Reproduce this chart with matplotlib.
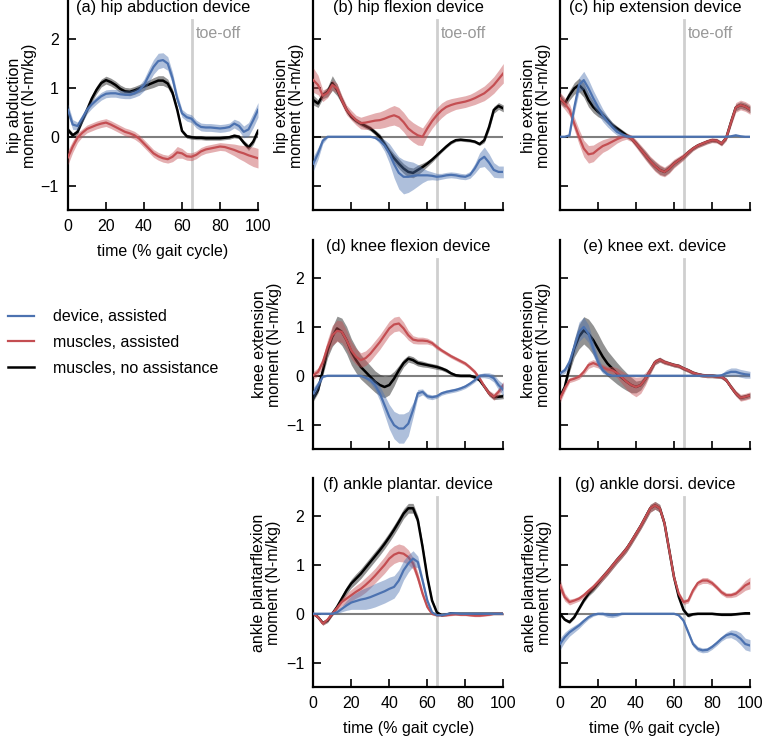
import numpy as np
import matplotlib
matplotlib.use("Agg")
import matplotlib.pyplot as plt
from matplotlib.lines import Line2D

plt.rcParams['font.family'] = ['Liberation Sans', 'DejaVu Sans']
FS = 11.5

# gait cycle (%) sample points
gait = [0, 2.5, 5, 7.5, 10, 12.5, 15, 17.5, 20, 22.5, 25, 27.5, 30, 32.5, 35, 37.5, 40,
        42.5, 45, 47.5, 50, 52.5, 55, 57.5, 60, 62.5, 65, 67.5, 70, 72.5, 75, 77.5, 80,
        82.5, 85, 87.5, 90, 92.5, 95, 97.5, 100]

titles = ["(a) hip abduction device", "(b) hip flexion device", "(c) hip extension device",
          "(d) knee flexion device", "(e) knee ext. device",
          "(f) ankle plantar. device", "(g) ankle dorsi. device"]
ylabels = ["hip abduction\nmoment (N-m/kg)", "hip extension\nmoment (N-m/kg)",
           "hip extension\nmoment (N-m/kg)", "knee extension\nmoment (N-m/kg)",
           "knee extension\nmoment (N-m/kg)", "ankle plantarflexion\nmoment (N-m/kg)",
           "ankle plantarflexion\nmoment (N-m/kg)"]
legend_labels = ["device, assisted", "muscles, assisted", "muscles, no assistance"]
toe_off = 65
xticks = [0, 20, 40, 60, 80, 100]
yticks = [-1, 0, 1, 2]

# ---- (a) hip abduction device ----
device_a = [0.55, 0.25, 0.22, 0.38, 0.55, 0.66, 0.75, 0.83, 0.88, 0.89, 0.89, 0.87, 0.86, 0.86, 0.89, 0.95, 1.06,
            1.25, 1.43, 1.55, 1.57, 1.5, 1.2, 0.78, 0.48, 0.4, 0.37, 0.26, 0.2, 0.19, 0.19, 0.18, 0.17,
            0.18, 0.2, 0.27, 0.22, 0.1, 0.15, 0.34, 0.55]
device_a_sd = [0.12, 0.1, 0.08, 0.08, 0.08, 0.08, 0.08, 0.08, 0.08, 0.08, 0.08, 0.08, 0.08, 0.08, 0.08, 0.1, 0.12,
               0.14, 0.15, 0.16, 0.15, 0.14, 0.12, 0.1, 0.08, 0.08, 0.08, 0.08, 0.08, 0.08, 0.08, 0.08, 0.08,
               0.08, 0.08, 0.09, 0.1, 0.12, 0.14, 0.15, 0.15]
assisted_a = [-0.42, -0.2, -0.02, 0.08, 0.16, 0.2, 0.24, 0.27, 0.29, 0.25, 0.2, 0.15, 0.1, 0.07, 0.03, -0.04, -0.14,
              -0.24, -0.34, -0.4, -0.44, -0.46, -0.41, -0.32, -0.34, -0.4, -0.41, -0.37, -0.3, -0.26, -0.24, -0.22, -0.2,
              -0.21, -0.24, -0.27, -0.31, -0.34, -0.38, -0.41, -0.44]
assisted_a_sd = [0.15, 0.12, 0.1, 0.08, 0.08, 0.08, 0.08, 0.08, 0.08, 0.08, 0.08, 0.08, 0.08, 0.08, 0.08, 0.08, 0.08,
                 0.08, 0.08, 0.08, 0.08, 0.08, 0.1, 0.12, 0.1, 0.08, 0.08, 0.08, 0.08, 0.08, 0.08, 0.08, 0.08,
                 0.08, 0.1, 0.12, 0.14, 0.16, 0.18, 0.2, 0.2]
none_a = [0.14, 0.03, 0.1, 0.33, 0.55, 0.78, 0.96, 1.1, 1.16, 1.12, 1.06, 0.98, 0.93, 0.92, 0.95, 0.99, 1.03,
          1.07, 1.11, 1.15, 1.15, 1.09, 0.9, 0.55, 0.12, 0.01, -0.01, -0.02, -0.02, -0.03, -0.03, -0.03, -0.03,
          -0.02, -0.01, 0.02, 0.0, -0.12, -0.22, -0.1, 0.12]
none_a_sd = [0.05, 0.05, 0.05, 0.05, 0.06, 0.07, 0.08, 0.08, 0.08, 0.08, 0.08, 0.08, 0.08, 0.08, 0.08, 0.08, 0.08,
             0.09, 0.1, 0.1, 0.1, 0.09, 0.08, 0.06, 0.04, 0.04, 0.04, 0.04, 0.04, 0.04, 0.04, 0.04, 0.04,
             0.04, 0.04, 0.04, 0.04, 0.05, 0.06, 0.06, 0.06]

# ---- (b) hip flexion device ----
device_b = [-0.55, -0.34, -0.08, 0.0, 0, 0, 0, 0, 0, 0, 0, 0, 0, -0.02, -0.08, -0.18, -0.34,
            -0.56, -0.74, -0.82, -0.82, -0.8, -0.79, -0.79, -0.79, -0.8, -0.82, -0.81, -0.79, -0.78, -0.79, -0.81, -0.82,
            -0.78, -0.65, -0.48, -0.41, -0.53, -0.68, -0.72, -0.72]
device_b_sd = [0.15, 0.12, 0.06, 0.02, 0, 0, 0, 0, 0, 0, 0, 0, 0, 0.02, 0.06, 0.12, 0.2,
               0.28, 0.33, 0.35, 0.32, 0.28, 0.22, 0.15, 0.1, 0.08, 0.07, 0.06, 0.06, 0.06, 0.06, 0.06, 0.06,
               0.07, 0.1, 0.15, 0.2, 0.18, 0.15, 0.12, 0.12]
assisted_b = [1.16, 1.06, 0.84, 0.9, 1.06, 0.99, 0.75, 0.55, 0.44, 0.34, 0.28, 0.29, 0.31, 0.33, 0.34, 0.37, 0.41,
              0.44, 0.4, 0.3, 0.17, 0.09, 0.03, 0.0, 0.17, 0.32, 0.44, 0.54, 0.61, 0.65, 0.68, 0.7, 0.72,
              0.75, 0.79, 0.84, 0.89, 0.97, 1.06, 1.18, 1.3]
assisted_b_sd = [0.25, 0.2, 0.12, 0.1, 0.1, 0.1, 0.1, 0.1, 0.1, 0.1, 0.12, 0.14, 0.15, 0.16, 0.17, 0.18, 0.19,
                 0.2, 0.2, 0.2, 0.2, 0.2, 0.2, 0.18, 0.15, 0.15, 0.15, 0.15, 0.14, 0.13, 0.12, 0.12, 0.12,
                 0.12, 0.13, 0.14, 0.15, 0.16, 0.17, 0.18, 0.2]
none_b = [0.75, 0.68, 0.85, 0.92, 1.1, 0.96, 0.75, 0.55, 0.41, 0.33, 0.27, 0.22, 0.17, 0.09, 0.0, -0.15, -0.31,
          -0.44, -0.55, -0.65, -0.72, -0.74, -0.68, -0.62, -0.55, -0.47, -0.38, -0.29, -0.2, -0.12, -0.07, -0.06, -0.07,
          -0.08, -0.1, -0.15, -0.07, 0.2, 0.55, 0.63, 0.58]
none_b_sd = [0.1, 0.08, 0.07, 0.1, 0.15, 0.12, 0.08, 0.06, 0.05, 0.05, 0.05, 0.05, 0.05, 0.05, 0.06, 0.07, 0.08,
             0.09, 0.1, 0.1, 0.1, 0.1, 0.1, 0.08, 0.06, 0.05, 0.04, 0.03, 0.03, 0.03, 0.03, 0.03, 0.03,
             0.03, 0.03, 0.03, 0.05, 0.07, 0.07, 0.07, 0.07]

# ---- (c) hip extension device ----
device_c = [0, 0, 0.03, 0.6, 1.06, 1.16, 0.99, 0.79, 0.61, 0.44, 0.31, 0.2, 0.1, 0.05, 0.01, 0, 0,
            0, 0, 0, 0, 0, 0, 0, 0, 0, 0, 0, 0, 0, 0, 0, 0,
            0, 0, 0, 0.01, 0.03, 0.01, 0, 0]
device_c_sd = [0, 0, 0.02, 0.12, 0.15, 0.18, 0.18, 0.16, 0.15, 0.13, 0.11, 0.09, 0.07, 0.05, 0.03, 0.01, 0,
               0, 0, 0, 0, 0, 0, 0, 0, 0, 0, 0, 0, 0, 0, 0, 0,
               0, 0, 0, 0.01, 0.02, 0.01, 0, 0]
assisted_c = [0.79, 0.68, 0.55, 0.27, 0.0, -0.24, -0.36, -0.34, -0.26, -0.19, -0.15, -0.1, -0.05, -0.01, 0.01, -0.03, -0.14,
              -0.26, -0.38, -0.5, -0.6, -0.68, -0.72, -0.65, -0.55, -0.48, -0.41, -0.32, -0.24, -0.18, -0.14, -0.1, -0.07,
              -0.08, -0.14, -0.02, 0.3, 0.6, 0.65, 0.62, 0.56]
assisted_c_sd = [0.12, 0.12, 0.12, 0.13, 0.15, 0.17, 0.18, 0.17, 0.15, 0.13, 0.12, 0.1, 0.08, 0.07, 0.06, 0.07, 0.08,
                 0.09, 0.1, 0.1, 0.11, 0.11, 0.1, 0.1, 0.09, 0.08, 0.07, 0.06, 0.05, 0.05, 0.05, 0.05, 0.05,
                 0.05, 0.05, 0.06, 0.08, 0.1, 0.1, 0.1, 0.1]
none_c = [0.79, 0.68, 0.85, 0.99, 1.06, 0.96, 0.75, 0.61, 0.51, 0.44, 0.34, 0.24, 0.17, 0.1, 0.03, -0.03, -0.14,
          -0.26, -0.38, -0.5, -0.6, -0.68, -0.72, -0.65, -0.55, -0.48, -0.41, -0.32, -0.24, -0.18, -0.14, -0.1, -0.07,
          -0.08, -0.14, -0.02, 0.3, 0.6, 0.65, 0.62, 0.56]
none_c_sd = [0.1, 0.08, 0.1, 0.12, 0.14, 0.15, 0.14, 0.12, 0.1, 0.08, 0.07, 0.06, 0.05, 0.05, 0.05, 0.05, 0.06,
             0.07, 0.08, 0.08, 0.09, 0.09, 0.08, 0.08, 0.07, 0.06, 0.05, 0.05, 0.04, 0.04, 0.04, 0.04, 0.04,
             0.04, 0.04, 0.05, 0.06, 0.07, 0.07, 0.07, 0.07]

# ---- (d) knee flexion device ----
device_d = [-0.36, -0.19, -0.02, 0, 0, 0, 0, 0, 0, 0, 0, -0.04, -0.09, -0.19, -0.36, -0.6, -0.84,
            -1.01, -1.08, -1.08, -0.98, -0.7, -0.36, -0.33, -0.42, -0.44, -0.42, -0.36, -0.33, -0.31, -0.29, -0.26, -0.22,
            -0.16, -0.09, 0.0, 0.01, 0.0, -0.05, -0.19, -0.29]
device_d_sd = [0.12, 0.08, 0.02, 0, 0, 0, 0, 0, 0, 0, 0.01, 0.03, 0.06, 0.1, 0.15, 0.2, 0.25,
               0.28, 0.3, 0.3, 0.25, 0.15, 0.08, 0.06, 0.05, 0.05, 0.04, 0.04, 0.04, 0.04, 0.04, 0.04, 0.04,
               0.04, 0.04, 0.04, 0.05, 0.06, 0.08, 0.1, 0.12]
assisted_d = [0.01, 0.08, 0.28, 0.59, 0.83, 0.92, 0.9, 0.73, 0.52, 0.39, 0.32, 0.36, 0.45, 0.57, 0.69, 0.83, 0.97,
              1.05, 1.07, 0.97, 0.83, 0.74, 0.72, 0.72, 0.71, 0.67, 0.59, 0.52, 0.46, 0.4, 0.35, 0.3, 0.25,
              0.17, 0.08, -0.05, -0.22, -0.36, -0.43, -0.33, -0.19]
assisted_d_sd = [0.08, 0.08, 0.1, 0.15, 0.2, 0.22, 0.22, 0.2, 0.18, 0.16, 0.15, 0.15, 0.15, 0.15, 0.15, 0.15, 0.15,
                 0.15, 0.15, 0.13, 0.1, 0.08, 0.07, 0.07, 0.06, 0.05, 0.05, 0.04, 0.04, 0.04, 0.04, 0.04, 0.04,
                 0.04, 0.04, 0.04, 0.05, 0.06, 0.07, 0.07, 0.07]
none_d = [-0.46, -0.29, 0.11, 0.52, 0.8, 0.97, 0.9, 0.73, 0.49, 0.32, 0.18, 0.08, -0.02, -0.12, -0.19, -0.23, -0.19,
          -0.06, 0.11, 0.26, 0.35, 0.32, 0.26, 0.24, 0.22, 0.2, 0.18, 0.15, 0.11, 0.05, 0.01, 0.0, 0.0,
          0.0, -0.03, -0.09, -0.22, -0.36, -0.44, -0.43, -0.42]
none_d_sd = [0.06, 0.06, 0.1, 0.15, 0.2, 0.25, 0.28, 0.28, 0.27, 0.26, 0.25, 0.24, 0.23, 0.22, 0.22, 0.22, 0.2,
             0.15, 0.1, 0.08, 0.07, 0.07, 0.06, 0.06, 0.05, 0.05, 0.05, 0.04, 0.04, 0.03, 0.03, 0.03, 0.03,
             0.03, 0.03, 0.03, 0.04, 0.05, 0.05, 0.05, 0.05]

# ---- (e) knee ext. device ----
device_e = [0.05, 0.11, 0.28, 0.59, 0.9, 1.0, 0.86, 0.56, 0.28, 0.11, 0.03, 0.0, 0, 0, 0, 0, 0,
            0, 0, 0, 0, 0, 0, 0, 0, 0, 0, 0, 0, 0, 0, 0, 0,
            0, 0.01, 0.05, 0.08, 0.08, 0.05, 0.03, 0.02]
device_e_sd = [0.05, 0.06, 0.1, 0.15, 0.2, 0.2, 0.18, 0.15, 0.1, 0.06, 0.03, 0.01, 0, 0, 0, 0, 0,
               0, 0, 0, 0, 0, 0, 0, 0, 0, 0, 0, 0, 0, 0, 0, 0,
               0.01, 0.03, 0.07, 0.08, 0.08, 0.08, 0.08, 0.07]
assisted_e = [-0.47, -0.26, -0.09, -0.06, -0.02, 0.08, 0.22, 0.26, 0.22, 0.17, 0.13, 0.11, 0.06, -0.03, -0.12, -0.19, -0.23,
              -0.19, -0.06, 0.11, 0.28, 0.33, 0.28, 0.25, 0.22, 0.2, 0.15, 0.11, 0.06, 0.03, 0.01, 0.0, 0.0,
              -0.01, -0.02, -0.09, -0.23, -0.36, -0.45, -0.43, -0.4]
assisted_e_sd = [0.08, 0.07, 0.05, 0.05, 0.05, 0.06, 0.07, 0.07, 0.06, 0.06, 0.06, 0.08, 0.1, 0.13, 0.16, 0.18, 0.2,
                 0.17, 0.13, 0.08, 0.06, 0.05, 0.05, 0.04, 0.04, 0.04, 0.04, 0.04, 0.04, 0.04, 0.04, 0.04, 0.04,
                 0.04, 0.04, 0.04, 0.05, 0.06, 0.07, 0.07, 0.07]
none_e = [-0.43, -0.23, 0.18, 0.56, 0.8, 0.93, 0.86, 0.73, 0.56, 0.39, 0.25, 0.15, 0.05, -0.04, -0.12, -0.19, -0.23,
          -0.19, -0.06, 0.11, 0.28, 0.33, 0.28, 0.25, 0.22, 0.2, 0.15, 0.11, 0.06, 0.03, 0.01, 0.0, 0.0,
          -0.01, -0.02, -0.09, -0.23, -0.36, -0.45, -0.43, -0.4]
none_e_sd = [0.05, 0.05, 0.1, 0.18, 0.25, 0.28, 0.3, 0.3, 0.3, 0.28, 0.26, 0.24, 0.22, 0.2, 0.18, 0.16, 0.12,
             0.1, 0.08, 0.06, 0.05, 0.05, 0.04, 0.04, 0.04, 0.04, 0.04, 0.04, 0.04, 0.04, 0.04, 0.04, 0.04,
             0.04, 0.04, 0.04, 0.05, 0.05, 0.05, 0.05, 0.05]

# ---- (f) ankle plantar. device ----
device_f = [0, 0, 0, 0, 0, 0.03, 0.1, 0.17, 0.23, 0.26, 0.29, 0.31, 0.34, 0.38, 0.42, 0.46, 0.51,
            0.55, 0.68, 0.89, 1.03, 1.13, 1.06, 0.68, 0.27, 0.03, -0.03, -0.03, -0.01, 0.01, 0.01, 0, 0,
            0, 0, 0, 0, 0, 0, 0, 0]
device_f_sd = [0, 0, 0, 0, 0.01, 0.03, 0.06, 0.1, 0.14, 0.17, 0.2, 0.22, 0.23, 0.24, 0.24, 0.24, 0.24,
               0.23, 0.22, 0.2, 0.18, 0.16, 0.12, 0.08, 0.05, 0.02, 0.01, 0.01, 0.01, 0.01, 0.01, 0.01, 0.01,
               0.01, 0.01, 0.01, 0.01, 0.01, 0.01, 0.01, 0.01]
assisted_f = [0.0, -0.07, -0.2, -0.12, 0.0, 0.12, 0.24, 0.31, 0.38, 0.45, 0.51, 0.59, 0.68, 0.78, 0.89, 1.0, 1.13,
              1.21, 1.25, 1.23, 1.16, 1.03, 0.75, 0.41, 0.14, 0.0, -0.03, -0.03, -0.03, -0.02, -0.01, -0.02, -0.02,
              -0.03, -0.04, -0.04, -0.03, -0.02, 0.0, 0.0, 0.0]
assisted_f_sd = [0.02, 0.03, 0.04, 0.04, 0.04, 0.06, 0.08, 0.1, 0.12, 0.13, 0.14, 0.15, 0.15, 0.15, 0.16, 0.17, 0.18,
                 0.18, 0.18, 0.17, 0.15, 0.12, 0.1, 0.07, 0.05, 0.03, 0.02, 0.02, 0.02, 0.02, 0.02, 0.02, 0.02,
                 0.02, 0.02, 0.02, 0.02, 0.02, 0.02, 0.02, 0.02]
none_f = [0.0, -0.07, -0.19, -0.14, 0.0, 0.14, 0.31, 0.48, 0.62, 0.72, 0.82, 0.94, 1.06, 1.18, 1.3, 1.43, 1.57,
          1.72, 1.88, 2.05, 2.16, 2.16, 1.92, 1.37, 0.75, 0.27, 0.03, -0.03, -0.02, 0.01, 0.0, 0.0, 0.0,
          0.0, 0.0, 0.0, 0.0, 0.0, 0.0, 0.0, 0.0]
none_f_sd = [0.02, 0.03, 0.04, 0.04, 0.04, 0.05, 0.07, 0.08, 0.09, 0.1, 0.1, 0.1, 0.1, 0.1, 0.1, 0.1, 0.1,
             0.1, 0.1, 0.1, 0.1, 0.1, 0.09, 0.08, 0.06, 0.04, 0.03, 0.02, 0.02, 0.02, 0.02, 0.02, 0.02,
             0.02, 0.02, 0.02, 0.02, 0.02, 0.02, 0.02, 0.02]

# ---- (g) ankle dorsi. device ----
device_g = [-0.62, -0.48, -0.38, -0.31, -0.24, -0.15, -0.07, -0.02, 0, 0, -0.02, -0.03, -0.02, 0, 0, 0, 0,
            0, 0, 0, 0, 0, 0, 0, 0, -0.03, -0.14, -0.38, -0.62, -0.72, -0.75, -0.74, -0.68,
            -0.6, -0.51, -0.44, -0.41, -0.44, -0.51, -0.62, -0.65]
device_g_sd = [0.12, 0.1, 0.08, 0.07, 0.06, 0.05, 0.04, 0.03, 0.02, 0.03, 0.05, 0.05, 0.04, 0.02, 0.01, 0.01, 0.01,
               0.01, 0.01, 0.01, 0.01, 0.01, 0.01, 0.01, 0.01, 0.02, 0.04, 0.05, 0.05, 0.05, 0.05, 0.05, 0.05,
               0.05, 0.05, 0.06, 0.08, 0.1, 0.12, 0.12, 0.12]
assisted_g = [0.58, 0.34, 0.24, 0.27, 0.31, 0.38, 0.47, 0.55, 0.65, 0.75, 0.86, 0.98, 1.1, 1.21, 1.33, 1.48, 1.64,
              1.8, 1.98, 2.16, 2.22, 2.16, 1.85, 1.3, 0.75, 0.41, 0.24, 0.27, 0.48, 0.63, 0.68, 0.68, 0.63,
              0.54, 0.44, 0.38, 0.38, 0.41, 0.49, 0.58, 0.63]
assisted_g_sd = [0.12, 0.08, 0.06, 0.05, 0.05, 0.05, 0.05, 0.06, 0.07, 0.07, 0.07, 0.07, 0.07, 0.07, 0.07, 0.07, 0.07,
                 0.07, 0.07, 0.08, 0.08, 0.07, 0.06, 0.05, 0.05, 0.05, 0.05, 0.05, 0.05, 0.05, 0.06, 0.06, 0.05,
                 0.05, 0.05, 0.05, 0.05, 0.06, 0.08, 0.1, 0.12]
none_g = [0.0, -0.12, -0.17, -0.07, 0.1, 0.27, 0.41, 0.51, 0.63, 0.75, 0.86, 0.98, 1.1, 1.21, 1.33, 1.48, 1.64,
          1.8, 1.98, 2.16, 2.22, 2.16, 1.85, 1.3, 0.75, 0.35, 0.08, -0.04, -0.01, 0.0, 0.0, 0.0, 0.0,
          -0.01, -0.02, -0.02, -0.02, -0.01, 0.0, 0.01, 0.01]
none_g_sd = [0.02, 0.03, 0.03, 0.03, 0.03, 0.04, 0.05, 0.06, 0.07, 0.07, 0.07, 0.07, 0.07, 0.07, 0.07, 0.07, 0.07,
             0.07, 0.08, 0.08, 0.08, 0.08, 0.07, 0.06, 0.05, 0.04, 0.03, 0.03, 0.02, 0.02, 0.02, 0.02, 0.02,
             0.02, 0.02, 0.02, 0.02, 0.02, 0.02, 0.02, 0.02]

panels = [
    (device_a, device_a_sd, assisted_a, assisted_a_sd, none_a, none_a_sd),
    (device_b, device_b_sd, assisted_b, assisted_b_sd, none_b, none_b_sd),
    (device_c, device_c_sd, assisted_c, assisted_c_sd, none_c, none_c_sd),
    (device_d, device_d_sd, assisted_d, assisted_d_sd, none_d, none_d_sd),
    (device_e, device_e_sd, assisted_e, assisted_e_sd, none_e, none_e_sd),
    (device_f, device_f_sd, assisted_f, assisted_f_sd, none_f, none_f_sd),
    (device_g, device_g_sd, assisted_g, assisted_g_sd, none_g, none_g_sd),
]

BLUE = '#4C72B0'
RED = '#C44E52'
BLACK = '#000000'

fig = plt.figure(figsize=(7.64, 7.38), dpi=100)
W, H = 764.0, 738.0
col_left = [68, 313.3, 560]
row_bottom = [210, 449, 687]
ax_w, ax_h = 190, 209
# (row, col, show y tick labels, show x tick labels, ylabel x position)
layout = [(0, 0, True, True, -0.24), (0, 1, False, False, -0.127), (0, 2, False, False, -0.126),
          (1, 1, True, False, -0.245), (1, 2, False, False, -0.127),
          (2, 1, True, True, -0.25), (2, 2, False, True, -0.123)]

for i, (r, c, ylab_on, xlab_on, ylx) in enumerate(layout):
    ax = fig.add_axes([col_left[c] / W, 1 - row_bottom[r] / H, ax_w / W, ax_h / H])
    dev, dev_sd, ass, ass_sd, non, non_sd = [np.array(v, dtype=float) for v in panels[i]]
    x = np.array(gait)
    ax.axhline(0, color='#7f7f7f', lw=1.5, zorder=1)
    ax.plot([toe_off, toe_off], [-1.5, 2.4], color='#cfcfcf', lw=2, zorder=0.5)
    ax.fill_between(x, non - non_sd, non + non_sd, color='#3a3a3a', alpha=0.55, lw=0, zorder=2)
    ax.plot(x, non, color=BLACK, lw=1.8, zorder=3)
    ax.fill_between(x, ass - ass_sd, ass + ass_sd, color=RED, alpha=0.45, lw=0, zorder=4)
    ax.plot(x, ass, color=RED, lw=1.6, zorder=5)
    ax.fill_between(x, dev - dev_sd, dev + dev_sd, color=BLUE, alpha=0.45, lw=0, zorder=6)
    ax.plot(x, dev, color=BLUE, lw=1.6, zorder=7)

    ax.set_xlim(0, 100)
    ax.set_ylim(-1.5, 2.78)
    ax.set_xticks(xticks)
    ax.set_yticks(yticks)
    for s in ['top', 'right']:
        ax.spines[s].set_visible(False)
    for s in ['left', 'bottom']:
        ax.spines[s].set_linewidth(1.6)
    ax.tick_params(direction='in', length=6, width=1.2, labelsize=FS, pad=6.5)
    if not ylab_on:
        ax.tick_params(axis='y', labelleft=False)
    if not xlab_on:
        ax.tick_params(axis='x', labelbottom=False)
    else:
        ax.set_xlabel("time (% gait cycle)", fontsize=FS, labelpad=7)
    ax.set_ylabel(ylabels[i], fontsize=FS, va='center', linespacing=1.0)
    ax.yaxis.set_label_coords(ylx, 0.5)
    ax.text(0.5, 0.967, titles[i], transform=ax.transAxes, ha='center', va='center', fontsize=FS + 0.3)
    if r == 0:
        ax.text(67, 2.12, "toe-off", color='#999999', fontsize=FS, ha='left', va='center')

handles = [Line2D([], [], color=BLUE, lw=1.6), Line2D([], [], color=RED, lw=1.6),
           Line2D([], [], color=BLACK, lw=1.8)]
fig.legend(handles, legend_labels, loc='center left', bbox_to_anchor=(8 / W, 1 - 342.5 / H),
           frameon=False, fontsize=FS, handlelength=1.6, handletextpad=1.2, labelspacing=0.68,
           borderpad=0, borderaxespad=0)

fig.savefig("out.png", dpi=100)
